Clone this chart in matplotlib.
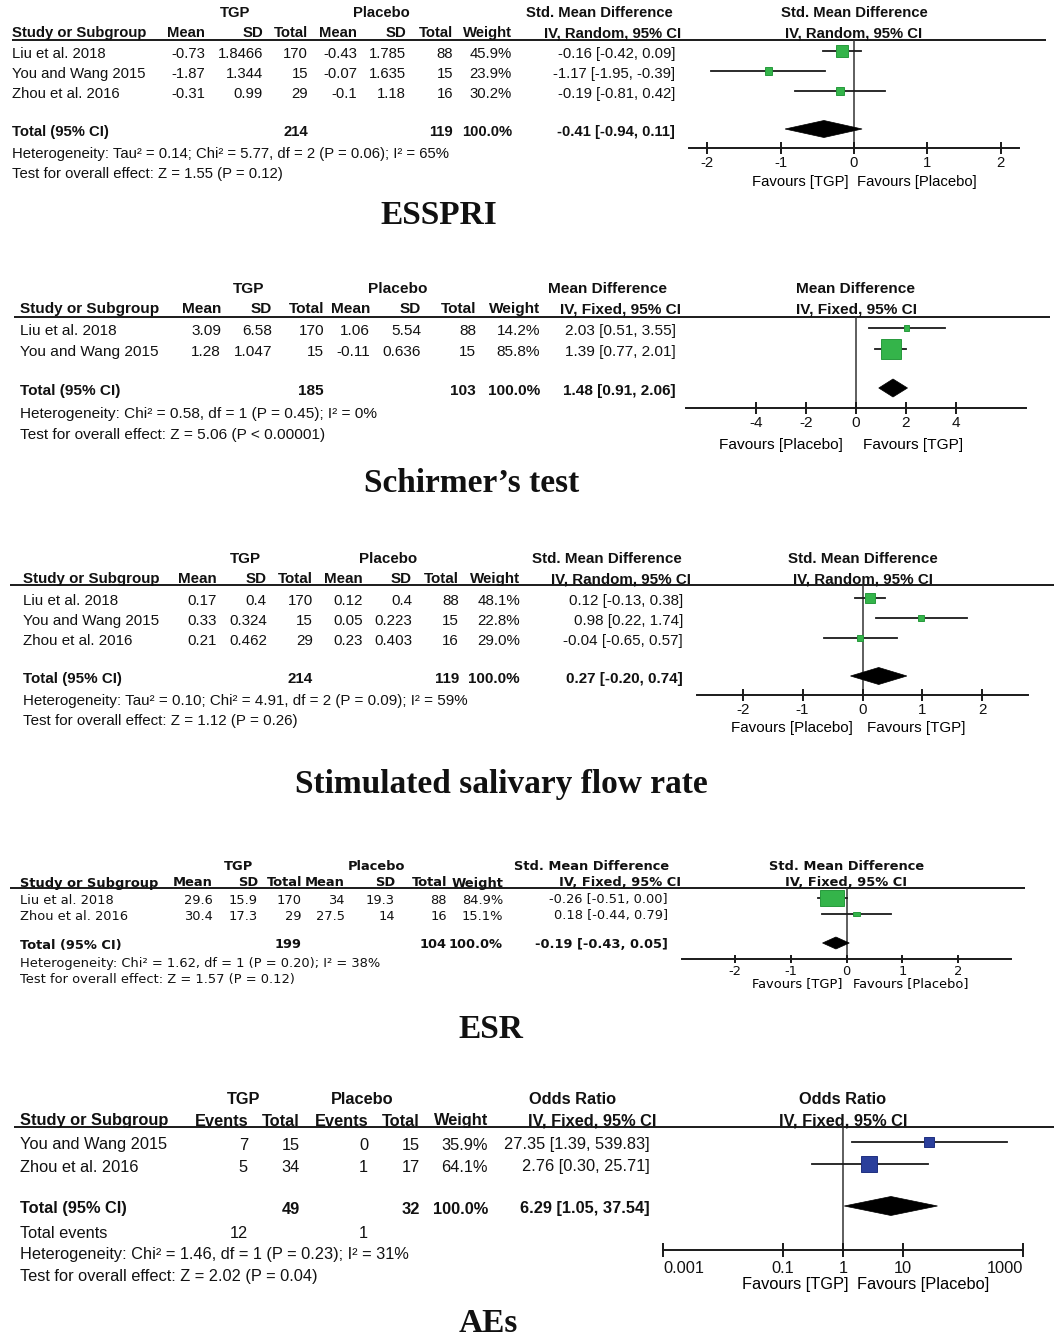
import numpy as np
import matplotlib.pyplot as plt
from matplotlib.patches import Rectangle, Polygon

plt.rcParams['axes.unicode_minus'] = False

# ---------------- data ----------------
# ESSPRI (Std. Mean Difference, IV, Random)
essp_study = ['Liu et al. 2018', 'You and Wang 2015', 'Zhou et al. 2016']
essp_tgp_mean = [-0.73, -1.87, -0.31]
essp_tgp_sd = [1.8466, 1.344, 0.99]
essp_tgp_n = [170, 15, 29]
essp_pla_mean = [-0.43, -0.07, -0.1]
essp_pla_sd = [1.785, 1.635, 1.18]
essp_pla_n = [88, 15, 16]
essp_weight = [45.9, 23.9, 30.2]
essp_est = [-0.16, -1.17, -0.19]
essp_lo = [-0.42, -1.95, -0.81]
essp_hi = [0.09, -0.39, 0.42]
essp_total = [-0.41, -0.94, 0.11]
essp_total_n = [214, 119]
essp_notes = ['Heterogeneity: Tau² = 0.14; Chi² = 5.77, df = 2 (P = 0.06); I² = 65%',
              'Test for overall effect: Z = 1.55 (P = 0.12)']

# Schirmer's test (Mean Difference, IV, Fixed)
sch_study = ['Liu et al. 2018', 'You and Wang 2015']
sch_tgp_mean = [3.09, 1.28]
sch_tgp_sd = [6.58, 1.047]
sch_tgp_n = [170, 15]
sch_pla_mean = [1.06, -0.11]
sch_pla_sd = [5.54, 0.636]
sch_pla_n = [88, 15]
sch_weight = [14.2, 85.8]
sch_est = [2.03, 1.39]
sch_lo = [0.51, 0.77]
sch_hi = [3.55, 2.01]
sch_total = [1.48, 0.91, 2.06]
sch_total_n = [185, 103]
sch_notes = ['Heterogeneity: Chi² = 0.58, df = 1 (P = 0.45); I² = 0%',
             'Test for overall effect: Z = 5.06 (P < 0.00001)']

# Stimulated salivary flow rate (Std. Mean Difference, IV, Random)
ssf_study = ['Liu et al. 2018', 'You and Wang 2015', 'Zhou et al. 2016']
ssf_tgp_mean = [0.17, 0.33, 0.21]
ssf_tgp_sd = [0.4, 0.324, 0.462]
ssf_tgp_n = [170, 15, 29]
ssf_pla_mean = [0.12, 0.05, 0.23]
ssf_pla_sd = [0.4, 0.223, 0.403]
ssf_pla_n = [88, 15, 16]
ssf_weight = [48.1, 22.8, 29.0]
ssf_est = [0.12, 0.98, -0.04]
ssf_lo = [-0.13, 0.22, -0.65]
ssf_hi = [0.38, 1.74, 0.57]
ssf_total = [0.27, -0.20, 0.74]
ssf_total_n = [214, 119]
ssf_notes = ['Heterogeneity: Tau² = 0.10; Chi² = 4.91, df = 2 (P = 0.09); I² = 59%',
             'Test for overall effect: Z = 1.12 (P = 0.26)']

# ESR (Std. Mean Difference, IV, Fixed)
esr_study = ['Liu et al. 2018', 'Zhou et al. 2016']
esr_tgp_mean = [29.6, 30.4]
esr_tgp_sd = [15.9, 17.3]
esr_tgp_n = [170, 29]
esr_pla_mean = [34, 27.5]
esr_pla_sd = [19.3, 14]
esr_pla_n = [88, 16]
esr_weight = [84.9, 15.1]
esr_est = [-0.26, 0.18]
esr_lo = [-0.51, -0.44]
esr_hi = [0.00, 0.79]
esr_total = [-0.19, -0.43, 0.05]
esr_total_n = [199, 104]
esr_notes = ['Heterogeneity: Chi² = 1.62, df = 1 (P = 0.20); I² = 38%',
             'Test for overall effect: Z = 1.57 (P = 0.12)']

# AEs (Odds Ratio, IV, Fixed)
ae_study = ['You and Wang 2015', 'Zhou et al. 2016']
ae_tgp_events = [7, 5]
ae_tgp_n = [15, 34]
ae_pla_events = [0, 1]
ae_pla_n = [15, 17]
ae_weight = [35.9, 64.1]
ae_est = [27.35, 2.76]
ae_lo = [1.39, 0.30]
ae_hi = [539.83, 25.71]
ae_total = [6.29, 1.05, 37.54]
ae_total_n = [49, 32]
ae_total_events = [12, 1]
ae_notes = ['Heterogeneity: Chi² = 1.46, df = 1 (P = 0.23); I² = 31%',
            'Test for overall effect: Z = 2.02 (P = 0.04)']

# ---------------- style ----------------
W, H = 1054, 1339
sans = 'Liberation Sans'
serif = 'Liberation Serif'
ink = '#1a1a1a'
green, green_edge = '#34b44a', '#279a3c'
blue, blue_edge = '#2b3f9b', '#1f2f80'

fig = plt.figure(figsize=(W / 100, H / 100), dpi=100)
canvas = fig.add_axes([0, 0, 1, 1])
canvas.set_xlim(0, W)
canvas.set_ylim(H, 0)
canvas.axis('off')


def g(v):
    return f'{v:g}'


def ci(e, l, h):
    return f'{e:.2f} [{l:.2f}, {h:.2f}]'


def draw_panel(L, study, cols, cells, total_cols, total_n, weight, est, lo, hi, total,
               notes, measure, method, favours, color, edge, log=False, events_row=None):
    fs, fam = L['size'], L['family']

    def put(x, y, s, ha='right', bold=False):
        canvas.text(x, y, s, ha=ha, va='center', fontsize=fs, family=fam,
                    fontweight='bold' if bold else 'normal', color='#111111')

    # header
    for name, x in zip(['TGP', 'Placebo'], L['grp_x']):
        put(x, L['y_h1'], name, 'center', True)
    put(L['ci_hx'][0], L['y_h1'], measure, 'center', True)
    put(L['ci_hx'][1], L['y_h2'], method, 'center', True)
    put(L['study_x'], L['y_h2'], 'Study or Subgroup', 'left', True)
    for name, x in zip(cols, L['col_x']):
        put(x, L['y_h2'], name, 'right', True)
    xc = (L['ax_x'][0] + L['ax_x'][1]) / 2
    put(xc, L['y_h1'], measure, 'center', True)
    put(xc, L['y_h2'], method, 'center', True)
    canvas.plot(L['line_x'], [L['y_line']] * 2, color=ink, lw=1.4, solid_capstyle='butt')

    # study rows
    for i, y in enumerate(L['rows']):
        put(L['study_x'], y, study[i], 'left')
        for j, col in enumerate(cells):
            put(L['col_x'][j], y, g(col[i]))
        put(L['col_x'][-1], y, f'{weight[i]:.1f}%')
        put(L['ci_x'], y, ci(est[i], lo[i], hi[i]))

    # total row
    yt = L['y_total']
    put(L['study_x'], yt, 'Total (95% CI)', 'left', True)
    for j, n in zip(total_cols, total_n):
        put(L['col_x'][j], yt, str(n), 'right', True)
    put(L['col_x'][-1], yt, '100.0%', 'right', True)
    put(L['ci_x'], yt, ci(*total), 'right', True)

    ny = list(L['y_notes'])
    if events_row is not None:
        y = ny.pop(0)
        put(L['study_x'], y, 'Total events', 'left')
        for j, n in zip([0, 2], events_row):
            put(L['col_x'][j], y, str(n))
    for s, y in zip(notes, ny):
        put(L['study_x'], y, s, 'left')

    # forest plot
    x0, x1 = L['ax_x']
    ya, yl = L['y_axis'], L['y_line']
    ax = fig.add_axes([x0 / W, 1 - ya / H, (x1 - x0) / W, (ya - yl) / H])
    if log:
        ax.set_xscale('log')
    ax.set_xlim(L['xlim'])
    ax.set_ylim(ya, yl)
    ax.patch.set_visible(False)
    for s in ['top', 'left', 'right']:
        ax.spines[s].set_visible(False)
    ax.spines['bottom'].set_linewidth(1.4)
    ax.spines['bottom'].set_color(ink)
    ax.set_yticks([])
    ax.set_xticks(L['ticks'])
    labels = ax.set_xticklabels([g(t) for t in L['ticks']], family=fam, fontsize=fs)
    if log:
        # end labels sit inside the axis ends
        labels[0].set_horizontalalignment('left')
        labels[-1].set_horizontalalignment('right')
    ax.minorticks_off()
    ax.tick_params(axis='x', direction='inout', length=L['tick_len'], width=1.4,
                   pad=L['pad'], color=ink, labelcolor='#111111')
    ax.axvline(1 if log else 0, color='#333333', lw=1.1, zorder=1)

    tx = np.log10 if log else (lambda v: v)
    fx = (lambda u: 10 ** u) if log else (lambda u: u)
    ppu = (x1 - x0) / (tx(L['xlim'][1]) - tx(L['xlim'][0]))
    dy = L['mk_dy']
    for i, y in enumerate(L['rows']):
        yc = y + dy
        ax.plot([lo[i], hi[i]], [yc, yc], color=ink, lw=1.3, zorder=2, clip_on=False)
        side = L['box_k'] * weight[i] ** 0.77
        left, right = fx(tx(est[i]) - side / 2 / ppu), fx(tx(est[i]) + side / 2 / ppu)
        hh = side * L['squash'] / 2
        ax.add_patch(Rectangle((left, yc - hh), right - left, 2 * hh, fc=color, ec=edge,
                               lw=0.7, zorder=3, clip_on=False))
    yd = yt + dy
    dh = L['diam_h'] / 2
    ax.add_patch(Polygon([(total[1], yd), (total[0], yd - dh), (total[2], yd), (total[0], yd + dh)],
                         closed=True, fc='black', ec='black', lw=0.5, zorder=3, clip_on=False))

    canvas.text(L['fav_x'][0], L['y_fav'], favours[0], ha='right', va='center', fontsize=fs, family=fam)
    canvas.text(L['fav_x'][1], L['y_fav'], favours[1], ha='left', va='center', fontsize=fs, family=fam)

    canvas.text(L['title_xy'][0], L['title_xy'][1], L['title'], ha='center', va='center',
                fontsize=24, fontweight='bold', family=serif, color='#111111')


lay_essp = dict(size=10.7, family=sans, y_h1=13, y_h2=33, y_line=40, rows=[54, 74, 94], y_total=132,
                y_notes=[154, 174], line_x=(12, 1046), study_x=12,
                col_x=[205, 263, 308, 357, 406, 453, 512], ci_x=675, grp_x=[235, 381], ci_hx=[599, 613],
                ax_x=(689, 1019), xlim=(-2.25, 2.25), y_axis=148, ticks=[-2, -1, 0, 1, 2], tick_len=8, pad=2,
                y_fav=182, fav_x=(848, 857), box_k=0.63, squash=1.0, diam_h=17, mk_dy=-3,
                title='ESSPRI', title_xy=(439, 216))

lay_sch = dict(size=11.1, family=sans, y_h1=289, y_h2=309, y_line=317, rows=[331, 352], y_total=391,
               y_notes=[414, 435], line_x=(14, 1050), study_x=20,
               col_x=[221, 272, 324, 370, 421, 476, 540], ci_x=676, grp_x=[249, 398], ci_hx=[607, 621],
               ax_x=(686, 1026), xlim=(-6.8, 6.8), y_axis=408, ticks=[-4, -2, 0, 2, 4], tick_len=8, pad=2,
               y_fav=445, fav_x=(843, 863), box_k=0.65, squash=1.0, diam_h=18, mk_dy=-3,
               title='Schirmer’s test', title_xy=(472, 483))

lay_ssf = dict(size=10.9, family=sans, y_h1=559, y_h2=579, y_line=585, rows=[601, 621, 641], y_total=679,
               y_notes=[701, 721], line_x=(10, 1054), study_x=23,
               col_x=[217, 267, 313, 363, 412, 459, 520], ci_x=683, grp_x=[245, 388], ci_hx=[607, 621],
               ax_x=(697, 1028), xlim=(-2.76, 2.76), y_axis=695, ticks=[-2, -1, 0, 1, 2], tick_len=8, pad=2,
               y_fav=728, fav_x=(853, 867), box_k=0.5, squash=1.0, diam_h=17, mk_dy=-3,
               title='Stimulated salivary flow rate', title_xy=(501, 785))

lay_esr = dict(size=9.4, family='DejaVu Sans', y_h1=867, y_h2=883, y_line=888, rows=[900, 916], y_total=945,
               y_notes=[963, 979], line_x=(10, 1025), study_x=20,
               col_x=[213, 258, 302, 345, 395, 447, 503], ci_x=668, grp_x=[238, 376], ci_hx=[592, 620],
               ax_x=(682, 1011), xlim=(-2.95, 2.95), y_axis=959, ticks=[-2, -1, 0, 1, 2], tick_len=6, pad=1,
               y_fav=984, fav_x=(842, 853), box_k=0.78, squash=0.67, diam_h=12, mk_dy=-2,
               title='ESR', title_xy=(491, 1029))

lay_ae = dict(size=11.8, family=sans, y_h1=1099, y_h2=1121, y_line=1127, rows=[1145, 1167], y_total=1209,
              y_notes=[1233, 1255, 1277], line_x=(14, 1054), study_x=20,
              col_x=[248, 300, 368, 420, 488], ci_x=650, grp_x=[244, 362], ci_hx=[573, 592],
              ax_x=(663, 1023), xlim=(0.001, 1000), y_axis=1250, ticks=[0.001, 0.1, 1, 10, 1000], tick_len=10,
              pad=3, y_fav=1285, fav_x=(848, 857), box_k=0.65, squash=1.0, diam_h=19, mk_dy=-3,
              title='AEs', title_xy=(488, 1324))

smd_cols = ['Mean', 'SD', 'Total', 'Mean', 'SD', 'Total', 'Weight']

draw_panel(lay_essp, essp_study, smd_cols,
           [essp_tgp_mean, essp_tgp_sd, essp_tgp_n, essp_pla_mean, essp_pla_sd, essp_pla_n],
           [2, 5], essp_total_n, essp_weight, essp_est, essp_lo, essp_hi, essp_total, essp_notes,
           'Std. Mean Difference', 'IV, Random, 95% CI', ('Favours [TGP]', 'Favours [Placebo]'),
           green, green_edge)

draw_panel(lay_sch, sch_study, smd_cols,
           [sch_tgp_mean, sch_tgp_sd, sch_tgp_n, sch_pla_mean, sch_pla_sd, sch_pla_n],
           [2, 5], sch_total_n, sch_weight, sch_est, sch_lo, sch_hi, sch_total, sch_notes,
           'Mean Difference', 'IV, Fixed, 95% CI', ('Favours [Placebo]', 'Favours [TGP]'),
           green, green_edge)

draw_panel(lay_ssf, ssf_study, smd_cols,
           [ssf_tgp_mean, ssf_tgp_sd, ssf_tgp_n, ssf_pla_mean, ssf_pla_sd, ssf_pla_n],
           [2, 5], ssf_total_n, ssf_weight, ssf_est, ssf_lo, ssf_hi, ssf_total, ssf_notes,
           'Std. Mean Difference', 'IV, Random, 95% CI', ('Favours [Placebo]', 'Favours [TGP]'),
           green, green_edge)

draw_panel(lay_esr, esr_study, smd_cols,
           [esr_tgp_mean, esr_tgp_sd, esr_tgp_n, esr_pla_mean, esr_pla_sd, esr_pla_n],
           [2, 5], esr_total_n, esr_weight, esr_est, esr_lo, esr_hi, esr_total, esr_notes,
           'Std. Mean Difference', 'IV, Fixed, 95% CI', ('Favours [TGP]', 'Favours [Placebo]'),
           green, green_edge)

draw_panel(lay_ae, ae_study, ['Events', 'Total', 'Events', 'Total', 'Weight'],
           [ae_tgp_events, ae_tgp_n, ae_pla_events, ae_pla_n],
           [1, 3], ae_total_n, ae_weight, ae_est, ae_lo, ae_hi, ae_total, ae_notes,
           'Odds Ratio', 'IV, Fixed, 95% CI', ('Favours [TGP]', 'Favours [Placebo]'),
           blue, blue_edge, log=True, events_row=ae_total_events)

fig.savefig('out.png', dpi=100)
